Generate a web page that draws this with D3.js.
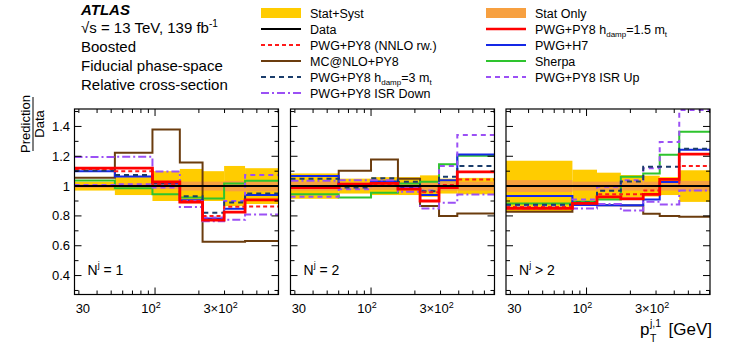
<!DOCTYPE html>
<html lang="en">
<head>
<meta charset="utf-8">
<title>Prediction / Data</title>
<script src="https://d3js.org/d3.v7.min.js"></script>
<style>
  body { margin: 0; background: #fff; }
  text { font-family: "Liberation Sans", Arial, sans-serif; fill: #000; }
</style>
</head>
<body>
<script>
// bin edges of the leading-jet pT, one list per jet-multiplicity panel
var panelNames = ["= 1", "= 2", "> 2"];
var edges = [
  [28, 53, 96, 148, 212, 298, 415, 704],
  [28, 60, 100, 153, 217, 293, 391, 704],
  [28, 80, 118, 172, 245, 318, 433, 704]
];
// half-widths of the uncertainty bands
var statSyst = [
  [0.03, 0.06, 0.10, 0.115, 0.10, 0.135, 0.12],
  [0.085, 0.05, 0.06, 0.06, 0.072, 0.05, 0.055],
  [0.17, 0.11, 0.09, 0.074, 0.07, 0.06, 0.106]
];
var statOnly = [
  [0.012, 0.018, 0.02, 0.03, 0.03, 0.035, 0.035],
  [0.03, 0.025, 0.025, 0.025, 0.03, 0.03, 0.03],
  [0.04, 0.03, 0.03, 0.03, 0.03, 0.03, 0.035]
];
var dataRatio = [
  [1, 1, 1, 1, 1, 1, 1],
  [1, 1, 1, 1, 1, 1, 1],
  [1, 1, 1, 1, 1, 1, 1]
];
var nnlo = [
  [1.115, 1.10, 1.012, 0.90, 0.80, 0.862, 0.863],
  [1.0, 1.0, 1.007, 1.0, 0.958, 1.007, 1.045],
  [0.86, 0.885, 0.946, 0.945, 0.97, 1.0, 1.134]
];
var mcnlo = [
  [1.056, 1.224, 1.38, 1.158, 0.626, 0.626, 0.632],
  [0.995, 1.103, 1.179, 1.049, 0.867, 0.80, 0.817],
  [0.828, 0.879, 0.872, 0.87, 0.815, 0.80, 0.795]
];
var hdamp3 = [
  [1.105, 1.075, 1.02, 0.932, 0.822, 0.89, 0.95],
  [1.05, 0.99, 1.052, 1.029, 0.966, 1.063, 1.134],
  [0.875, 0.89, 0.968, 1.03, 1.13, 1.13, 1.25]
];
var isrDown = [
  [1.195, 1.197, 1.098, 0.86, 0.765, 0.775, 0.81],
  [1.035, 1.04, 1.04, 0.962, 0.85, 0.888, 0.944],
  [0.85, 0.85, 0.88, 0.837, 0.895, 0.877, 0.97]
];
var hdamp15 = [
  [1.12, 1.12, 1.028, 0.893, 0.772, 0.825, 0.908],
  [0.99, 1.013, 1.018, 0.98, 0.90, 0.99, 1.096],
  [0.85, 0.884, 0.928, 0.915, 0.945, 1.045, 1.215]
];
var h7 = [
  [1.10, 1.065, 1.017, 0.905, 0.783, 0.848, 0.94],
  [1.067, 1.0, 1.03, 0.991, 0.94, 1.04, 1.212],
  [0.933, 0.873, 0.872, 0.872, 0.91, 1.028, 1.244]
];
var sherpa = [
  [1.037, 0.985, 0.945, 0.923, 0.917, 1.018, 1.035],
  [0.946, 0.924, 0.955, 1.018, 1.029, 1.147, 1.204],
  [0.884, 0.895, 0.91, 1.062, 1.085, 1.21, 1.364]
];
var isrUp = [
  [1.007, 1.012, 0.99, 0.90, 0.79, 0.90, 1.074],
  [0.928, 0.978, 1.0, 0.99, 0.97, 1.134, 1.342],
  [0.87, 0.91, 0.996, 1.04, 1.12, 1.295, 1.51]
];
var yTicks = [0.4, 0.6, 0.8, 1, 1.2, 1.4];
var yTickLabels = ["0.4", "0.6", "0.8", "1", "1.2", "1.4"];
var xLabelTicks = [30, 100, 300];

var yellow = "#ffcc00", orange = "#f7a040";

// drawing order (back to front)
var series = [
  {v: mcnlo,   color: "#6b3c0e", w: 2,   dash: null},
  {v: sherpa,  color: "#2ec42e", w: 2,   dash: null},
  {v: h7,      color: "#1428e6", w: 2,   dash: null},
  {v: isrDown, color: "#9b50f5", w: 2,   dash: "8,3,2,3"},
  {v: isrUp,   color: "#9b50f5", w: 2,   dash: "5,4"},
  {v: hdamp3,  color: "#1a3d6b", w: 2,   dash: "5,4"},
  {v: nnlo,    color: "#ff1a1a", w: 2,   dash: "4,3"},
  {v: hdamp15, color: "#ff0000", w: 2.8, dash: null},
  {v: dataRatio, color: "#000", w: 2,   dash: null}
];

var w = 747, h = 349;
var panelX = [74.5, 290.5, 506], panelW = 204;
var yTop = 109, yBottom = 294.5;

var svg = d3.select("body").append("svg")
  .attr("width", w).attr("height", h);

var y = d3.scaleLinear().domain([0.273, 1.517]).range([yBottom, yTop]);

function steps(e, vals) {
  var pts = [];
  vals.forEach(function(v, i) {
    pts.push([e[i], v]);
    pts.push([e[i + 1], v]);
  });
  return pts;
}

panelX.forEach(function(px, p) {
  var x = d3.scaleLog().domain([28, 704]).range([px, px + panelW]);
  var g = svg.append("g");

  svg.append("clipPath").attr("id", "clip" + p)
    .append("rect").attr("x", px).attr("y", yTop)
    .attr("width", panelW).attr("height", yBottom - yTop);
  var inner = g.append("g").attr("clip-path", "url(#clip" + p + ")");

  var bins = d3.range(edges[p].length - 1);
  function band(arr, col) {
    inner.selectAll(null).data(bins).enter().append("rect")
      .attr("x", function(i) { return x(edges[p][i]); })
      .attr("width", function(i) { return x(edges[p][i + 1]) - x(edges[p][i]); })
      .attr("y", function(i) { return y(dataRatio[p][i] + arr[p][i]); })
      .attr("height", function(i) { return y(dataRatio[p][i] - arr[p][i]) - y(dataRatio[p][i] + arr[p][i]); })
      .attr("fill", col);
  }
  band(statSyst, yellow);
  band(statOnly, orange);

  var line = d3.line().x(function(d) { return x(d[0]); }).y(function(d) { return y(d[1]); });
  series.forEach(function(s) {
    inner.append("path")
      .attr("d", line(steps(edges[p], s.v[p])))
      .attr("fill", "none")
      .attr("stroke", s.color)
      .attr("stroke-width", s.w)
      .attr("stroke-dasharray", s.dash);
  });

  // frame
  g.append("rect").attr("x", px).attr("y", yTop)
    .attr("width", panelW).attr("height", yBottom - yTop)
    .attr("fill", "none").attr("stroke", "#000").attr("stroke-width", 1.2);

  // x ticks (inward, top and bottom)
  var xt = x.ticks().filter(function(t) { return t >= 28 && t <= 704; });
  xt.forEach(function(t) {
    var len = (t === 100) ? 7 : 4;
    g.append("line").attr("x1", x(t)).attr("x2", x(t))
      .attr("y1", yBottom).attr("y2", yBottom - len).attr("stroke", "#000");
    g.append("line").attr("x1", x(t)).attr("x2", x(t))
      .attr("y1", yTop).attr("y2", yTop + len).attr("stroke", "#000");
  });
  // y ticks (inward, left and right)
  d3.range(0.3, 1.51, 0.1).forEach(function(t) {
    var major = Math.abs(Math.round(t * 10) % 2) === 0;
    var len = major ? 7 : 4;
    g.append("line").attr("x1", px).attr("x2", px + len)
      .attr("y1", y(t)).attr("y2", y(t)).attr("stroke", "#000");
    g.append("line").attr("x1", px + panelW).attr("x2", px + panelW - len)
      .attr("y1", y(t)).attr("y2", y(t)).attr("stroke", "#000");
  });

  // x tick labels
  xLabelTicks.forEach(function(t) {
    var lab = g.append("text").attr("y", 313).attr("font-size", 13)
      .attr("text-anchor", "middle")
      .attr("x", x(t) + (t === 30 ? 4 : -4));
    if (t === 30) lab.text("30");
    else {
      lab.append("tspan").text(t === 100 ? "10" : "3\u00d710");
      lab.append("tspan").attr("font-size", 9).attr("dy", -5).text("2");
    }
  });

  // panel label
  var nl = g.append("text").attr("x", px + 13).attr("y", 275).attr("font-size", 14);
  nl.append("tspan").text("N");
  nl.append("tspan").attr("font-size", 9).attr("dy", -7).text("j");
  nl.append("tspan").attr("dy", 7).text(" " + panelNames[p]);
});

// y tick labels on first panel
yTicks.forEach(function(t, i) {
  svg.append("text").attr("x", 70).attr("y", y(t) + 4.5)
    .attr("text-anchor", "end").attr("font-size", 13).text(yTickLabels[i]);
});

// y title as fraction
var yt = svg.append("g").attr("transform", "rotate(-90)");
yt.append("text").attr("x", -124).attr("y", 30).attr("text-anchor", "middle")
  .attr("font-size", 13).text("Prediction");
yt.append("line").attr("x1", -151).attr("x2", -97).attr("y1", 33).attr("y2", 33)
  .attr("stroke", "#000").attr("stroke-width", 1);
yt.append("text").attr("x", -124).attr("y", 44).attr("text-anchor", "middle")
  .attr("font-size", 13).text("Data");

// x title
svg.append("text").attr("x", 640).attr("y", 335).attr("font-size", 17).text("p");
svg.append("text").attr("x", 650).attr("y", 327).attr("font-size", 10.5).text("j,1");
svg.append("text").attr("x", 650).attr("y", 342).attr("font-size", 10.5).text("T");
svg.append("text").attr("x", 712).attr("y", 335).attr("text-anchor", "end")
  .attr("font-size", 17).text("[GeV]");

// header text
var hx = 81;
svg.append("text").attr("x", hx).attr("y", 15).attr("font-size", 15)
  .attr("font-weight", "bold").attr("font-style", "italic").text("ATLAS");
var rs = svg.append("text").attr("x", hx).attr("y", 33).attr("font-size", 15);
rs.append("tspan").text("\u221as = 13 TeV, 139 fb");
rs.append("tspan").attr("font-size", 10).attr("dy", -6).text("-1");
svg.append("text").attr("x", hx).attr("y", 52).attr("font-size", 15).text("Boosted");
svg.append("text").attr("x", hx).attr("y", 71).attr("font-size", 15).text("Fiducial phase-space");
svg.append("text").attr("x", hx).attr("y", 90).attr("font-size", 15).text("Relative cross-section");

// legend
var legend = [
  {col: 0, row: 0, box: yellow, label: ["Stat+Syst"]},
  {col: 0, row: 1, s: series[8], label: ["Data"]},
  {col: 0, row: 2, s: series[6], label: ["PWG+PY8 (NNLO rw.)"]},
  {col: 0, row: 3, s: series[0], label: ["MC@NLO+PY8"]},
  {col: 0, row: 4, s: series[5], label: ["PWG+PY8 h", "damp", "=3 m", "t"]},
  {col: 0, row: 5, s: series[3], label: ["PWG+PY8 ISR Down"]},
  {col: 1, row: 0, box: orange, label: ["Stat Only"]},
  {col: 1, row: 1, s: series[7], label: ["PWG+PY8 h", "damp", "=1.5 m", "t"]},
  {col: 1, row: 2, s: series[2], label: ["PWG+H7"]},
  {col: 1, row: 3, s: series[1], label: ["Sherpa"]},
  {col: 1, row: 4, s: series[4], label: ["PWG+PY8 ISR Up"]}
];
var colX = [261, 486];
legend.forEach(function(d) {
  var lx = colX[d.col], ly = 13 + d.row * 16;
  if (d.box) {
    svg.append("rect").attr("x", lx).attr("y", ly - 5).attr("width", 40).attr("height", 10)
      .attr("fill", d.box);
  } else {
    svg.append("line").attr("x1", lx).attr("x2", lx + 40).attr("y1", ly).attr("y2", ly)
      .attr("stroke", d.s.color).attr("stroke-width", d.s.w === 2 ? 2 : 2.4)
      .attr("stroke-dasharray", d.s.dash);
  }
  var t = svg.append("text").attr("x", lx + 49).attr("y", ly + 4.5).attr("font-size", 12.5);
  t.append("tspan").text(d.label[0]);
  if (d.label.length > 1) {
    t.append("tspan").attr("font-size", 8).attr("dy", 3).text(d.label[1]);
    t.append("tspan").attr("dy", -3).text(d.label[2]);
    t.append("tspan").attr("font-size", 8).attr("dy", 3).text(d.label[3]);
  }
});
</script>
</body>
</html>
